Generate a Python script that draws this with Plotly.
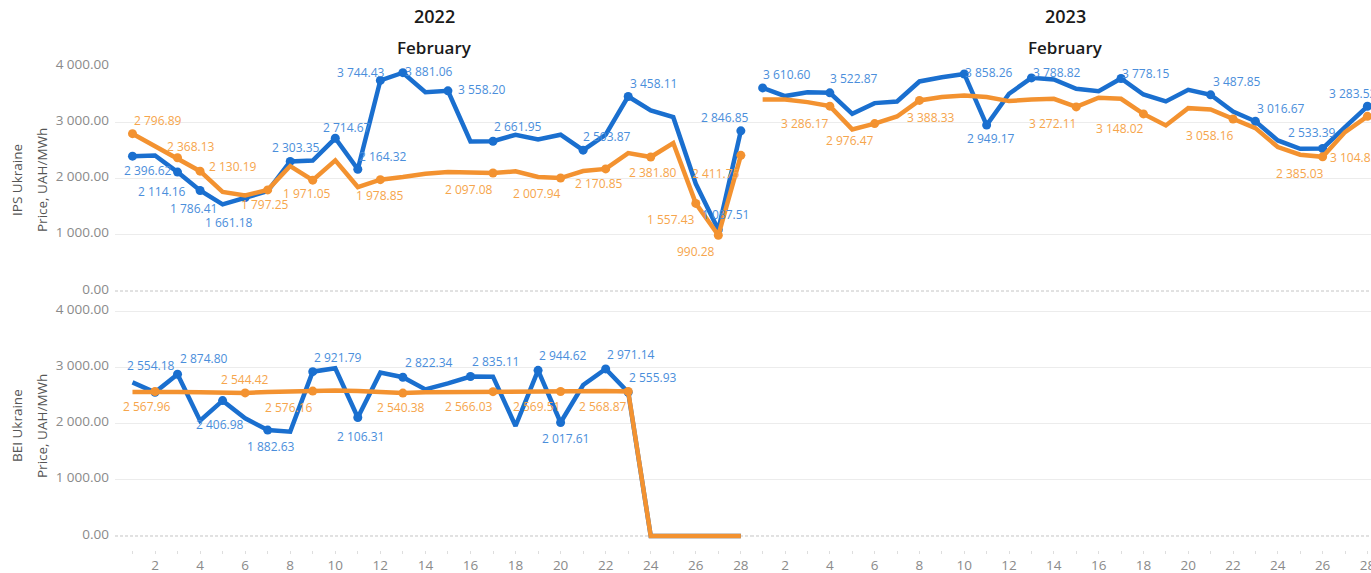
import plotly.graph_objects as go

# ---------------- data ----------------
DAYS = list(range(1, 29))

ips_2022_blue = [2396.62, 2410, 2114.16, 1786.41, 1540, 1661.18, 1775, 2303.35, 2320, 2714.67,
                 2164.32, 3744.43, 3881.06, 3535, 3558.20, 2660, 2661.95, 2778, 2695, 2778,
                 2503.87, 2778, 3458.11, 3210, 3090, 1905, 1087.51, 2846.85]
ips_2022_orange = [2796.89, 2577, 2368.13, 2130.19, 1760, 1700, 1797.25, 2221, 1971.05, 2322,
                   1848, 1978.85, 2026, 2085, 2115, 2097, 2097.08, 2127, 2026, 2007.94,
                   2133, 2170.85, 2452, 2381.80, 2630, 1557.43, 990.28, 2411.75]
ips_2023_blue = [3610.60, 3465, 3535, 3522.87, 3150, 3340, 3370, 3725, 3800, 3858.26,
                 2949.17, 3506, 3788.82, 3760, 3595, 3553, 3778.15, 3494, 3370, 3577,
                 3487.85, 3192, 3016.67, 2677, 2529, 2533.39, 2914, 3283.52]
ips_2023_orange = [3405, 3405, 3358, 3286.17, 2873, 2976.47, 3103, 3388.33, 3447, 3476,
                   3447, 3376, 3405, 3417, 3272.11, 3435, 3417, 3148.02, 2943, 3251,
                   3228, 3058.16, 2896, 2559, 2423, 2385.03, 2825, 3104.85]
bei_2022_blue = [2732, 2554.18, 2874.80, 2050, 2406.98, 2092, 1882.63, 1855, 2921.79, 2981,
                 2106.31, 2904, 2822.34, 2607, 2714, 2835.11, 2833, 1956, 2944.62, 2017.61,
                 2684, 2971.14, 2555.93, 0, 0, 0, 0, 0]
bei_2022_orange = [2560, 2567.96, 2562, 2556, 2552, 2544.42, 2562, 2572, 2576.16, 2585,
                   2578, 2556, 2540.38, 2555, 2560, 2563, 2566.03, 2570, 2566, 2569.51,
                   2585, 2577, 2568.87, 0, 0, 0, 0, 0]

# labelled days
ips22_blue_lbl = [1, 3, 4, 6, 8, 10, 11, 12, 13, 15, 17, 21, 23, 27, 28]
ips22_orange_lbl = [1, 3, 4, 7, 9, 12, 17, 20, 22, 24, 26, 27, 28]
ips23_blue_lbl = [1, 4, 10, 11, 13, 17, 21, 23, 26, 28]
ips23_orange_lbl = [4, 6, 8, 15, 18, 22, 26, 28]
bei22_blue_lbl = [2, 3, 5, 7, 9, 11, 13, 16, 19, 20, 22, 23]
bei22_orange_lbl = [2, 6, 9, 13, 17, 20, 23]

YEARS = ["2022", "2023"]
MONTH = "February"
ROW_TITLES = [("IPS Ukraine", "Price, UAH/MWh"), ("BEI Ukraine", "Price, UAH/MWh")]
Y_TICKS = [0, 1000, 2000, 3000, 4000]
X_TICKS = list(range(2, 29, 2))

# ---------------- label placement (pixel offsets from the point) ----------------
ips22_blue_off = [(16, 14), (-16, 19), (-7, 18), (-16, 25), (6, -14), (12, -11), (25, -13),
                  (-19, -8), (26, -1), (34, -1), (25, -15), (24, -14), (25, -13), (7, -15),
                  (-16, -13)]
ips22_orange_off = [(26, -13), (13, -11), (33, -5), (-3, 15), (-6, 13), (0, 16), (-24, 16),
                    (-24, 15), (-7, 15), (2, 15), (-25, 16), (-22, 16), (-25, 18)]
ips23_blue_off = [(24, -13), (24, -14), (25, -1), (4, 13), (26, -5), (25, -5), (26, -13),
                  (26, -13), (-11, -16), (-14, -13)]
ips23_orange_off = [(-25, 17), (-25, 17), (12, 17), (-24, 17), (-23, 15), (-23, 17),
                    (-23, 17), (-13, 41)]
bei22_blue_off = [(-4, -27), (26, -16), (-3, 24), (3, 16), (25, -14), (3, 19), (26, -15),
                  (25, -15), (25, -15), (5, 16), (25, -14), (25, -15)]
bei22_orange_off = [(-8, 15), (0, -13), (-24, 16), (-2, 14), (-24, 15), (-24, 15), (-25, 15)]

# ---------------- style ----------------
BLUE = "#1a6fcf"
ORANGE = "#f39230"
BLUE_TXT = "#4a8edb"
ORANGE_TXT = "#f6a54c"
FONT = "Open Sans"
W, H = 1371, 573


def px(x):
    return x / W


def py(y):
    return 1 - y / H


def fmt(v):
    return f"{v:,.2f}".replace(",", " ")


fig = go.Figure()

# layout geometry
col1 = [px(115), px(751)]
col2 = [px(751), 1.0]
row1 = [py(300), py(66)]
row2 = [py(550), py(306)]
xr1 = [0.224, 28.45]
xr2 = [0.48, 28.16]
yr1 = [-160, 4000]
yr2 = [-249, 4089]

# zero reference lines (dashed), drawn first so the data sit on top
for xa, ya, xr in [("x", "y", xr1), ("x2", "y2", xr2), ("x3", "y3", xr1), ("x4", "y4", xr2)]:
    fig.add_trace(go.Scatter(x=xr, y=[0, 0], mode="lines", xaxis=xa, yaxis=ya,
                             line=dict(color="white", width=2), showlegend=False,
                             hoverinfo="skip"))
    fig.add_trace(go.Scatter(x=xr, y=[0, 0], mode="lines", xaxis=xa, yaxis=ya,
                             line=dict(color="#c4c4c4", width=1, dash="3px,2px"),
                             showlegend=False, hoverinfo="skip"))


def add_series(xa, ya, values, lbl_days, offsets, line_color, text_color):
    fig.add_trace(go.Scatter(x=DAYS, y=values, mode="lines", xaxis=xa, yaxis=ya,
                             line=dict(color=line_color, width=4.5), showlegend=False,
                             hoverinfo="skip"))
    fig.add_trace(go.Scatter(x=lbl_days, y=[values[d - 1] for d in lbl_days],
                             mode="markers", xaxis=xa, yaxis=ya,
                             marker=dict(color=line_color, size=9),
                             cliponaxis=False, showlegend=False, hoverinfo="skip"))
    for d, (dx, dy) in zip(lbl_days, offsets):
        fig.add_annotation(x=d, y=values[d - 1], xref=xa, yref=ya, text=fmt(values[d - 1]),
                           showarrow=False, xanchor="center", yanchor="middle",
                           xshift=dx, yshift=-dy,
                           font=dict(color=text_color, size=12, family=FONT))


add_series("x", "y", ips_2022_blue, ips22_blue_lbl, ips22_blue_off, BLUE, BLUE_TXT)
add_series("x", "y", ips_2022_orange, ips22_orange_lbl, ips22_orange_off, ORANGE, ORANGE_TXT)
add_series("x2", "y2", ips_2023_blue, ips23_blue_lbl, ips23_blue_off, BLUE, BLUE_TXT)
add_series("x2", "y2", ips_2023_orange, ips23_orange_lbl, ips23_orange_off, ORANGE, ORANGE_TXT)
add_series("x3", "y3", bei_2022_blue, bei22_blue_lbl, bei22_blue_off, BLUE, BLUE_TXT)
add_series("x3", "y3", bei_2022_orange, bei22_orange_lbl, bei22_orange_off, ORANGE, ORANGE_TXT)

tickfont = dict(size=13.5, color="#8a8a8a", family=FONT)
grid = dict(showgrid=True, gridcolor="#ececec", gridwidth=1, zeroline=False)
common_x = dict(showline=False, zeroline=False, showgrid=False, automargin=False, fixedrange=True)
bottom_x = dict(tickvals=X_TICKS, ticks="outside", ticklen=3, tickcolor="#dedede",
                tickfont=tickfont, ticklabeloverflow="allow",
                minor=dict(dtick=1, tick0=1, ticks="outside", ticklen=3, tickcolor="#dedede"))
left_y = dict(tickvals=Y_TICKS, ticktext=[fmt(v) for v in Y_TICKS], tickfont=tickfont,
              ticks="", ticklabelstandoff=5, ticklabelshift=-2, automargin=False,
              fixedrange=True)
right_y = dict(tickvals=Y_TICKS, showticklabels=False, ticks="", automargin=False,
               fixedrange=True)

fig.update_layout(
    xaxis=dict(domain=col1, range=xr1, anchor="y", showticklabels=False, ticks="", **common_x),
    xaxis2=dict(domain=col2, range=xr2, anchor="y2", showticklabels=False, ticks="", **common_x),
    xaxis3=dict(domain=col1, range=xr1, anchor="y3", **bottom_x, **common_x),
    xaxis4=dict(domain=col2, range=xr2, anchor="y4", **bottom_x, **common_x),
    yaxis=dict(domain=row1, range=yr1, anchor="x", **left_y, **grid),
    yaxis2=dict(domain=row1, range=yr1, anchor="x2", **right_y, **grid),
    yaxis3=dict(domain=row2, range=yr2, anchor="x3", **left_y, **grid),
    yaxis4=dict(domain=row2, range=yr2, anchor="x4", **right_y, **grid),
)

# headers
col_centers = [px((118 + 751) / 2), px(1065.5)]
for cx, yr in zip(col_centers, YEARS):
    fig.add_annotation(x=cx, y=py(16), xref="paper", yref="paper", text=yr, showarrow=False,
                       xanchor="center", yanchor="middle",
                       font=dict(size=18, color="#1a1a1a", family=FONT, weight=600))
    fig.add_annotation(x=cx, y=py(47), xref="paper", yref="paper", text=MONTH,
                       showarrow=False, xanchor="center", yanchor="middle",
                       font=dict(size=17, color="#1a1a1a", family=FONT, weight=600))

# row titles
row_centers = [py(180), py(426)]
for cy, (t1, t2) in zip(row_centers, ROW_TITLES):
    fig.add_annotation(x=px(17), y=cy, xref="paper", yref="paper", text=t1, showarrow=False,
                       textangle=-90, xanchor="center", yanchor="middle",
                       font=dict(size=13.5, color="#555555", family=FONT))
    fig.add_annotation(x=px(42), y=cy, xref="paper", yref="paper", text=t2, showarrow=False,
                       textangle=-90, xanchor="center", yanchor="middle",
                       font=dict(size=13.5, color="#555555", family=FONT))

fig.update_layout(width=W, height=H, margin=dict(l=0, r=0, t=0, b=0),
                  paper_bgcolor="white", plot_bgcolor="white", showlegend=False,
                  hovermode=False, font=dict(family=FONT))

# remove the page's default body margin so the figure fills the window exactly
fig.write_html("out.html", config={"displayModeBar": False, "staticPlot": True},
               post_script="document.body.style.margin='0';document.body.style.overflow='hidden';")
